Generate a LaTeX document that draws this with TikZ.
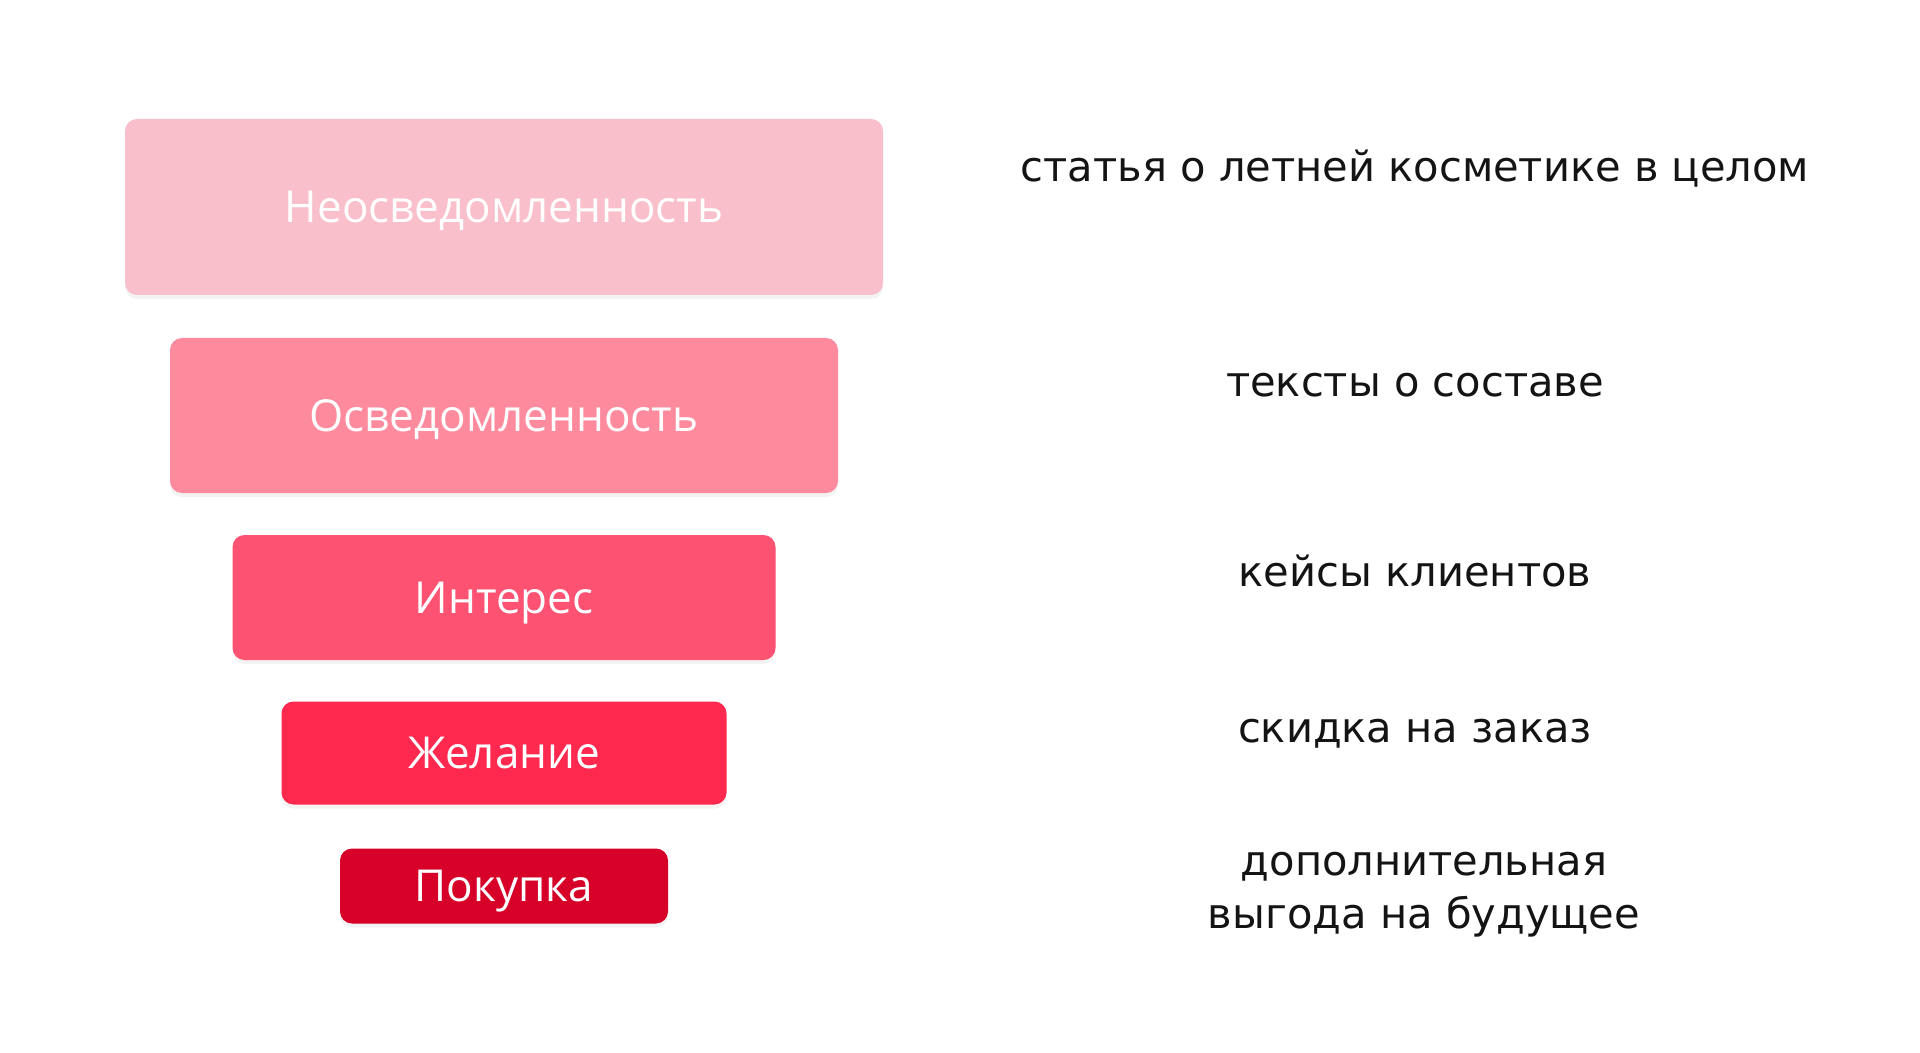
\documentclass[tikz,border=0pt]{standalone}
\usepackage{fontspec}
\setmainfont{DejaVu Sans}
\newfontfamily\boxfont{Open Sans}
\usetikzlibrary{shadows}

\definecolor{stageA}{RGB}{249,191,202}
\definecolor{stageB}{RGB}{254,138,158}
\definecolor{stageC}{RGB}{253,82,114}
\definecolor{stageD}{RGB}{255,41,79}
\definecolor{stageE}{RGB}{214,0,40}
\definecolor{notetext}{RGB}{20,20,20}

\tikzset{
  stagebox/.style={rectangle, rounded corners=6pt, text=white, inner sep=0pt,
    text height=15.7pt, text depth=0pt,
    font=\boxfont\fontsize{22}{26}\selectfont,
    drop shadow={opacity=0.09, shadow xshift=0pt, shadow yshift=-2pt}},
  note/.style={text=notetext, align=center, font=\fontsize{20.8}{26.5}\selectfont}
}

\begin{document}
\begin{tikzpicture}[x=0.5pt, y=-0.5pt]
    \useasboundingbox[fill=white] (0,0) rectangle (1920,1053);

    % Funnel stages
    \node[stagebox, fill=stageA, minimum width=379pt, minimum height=88pt] (unaware) at (504,207) {Неосведомленность};
    \node[stagebox, fill=stageB, minimum width=334pt, minimum height=77.5pt] (aware) at (504,415.5) {Осведомленность};
    \node[stagebox, fill=stageC, minimum width=271.5pt, minimum height=62.5pt] (interest) at (504,597.5) {Интерес};
    \node[stagebox, fill=stageD, minimum width=222.5pt, minimum height=51.5pt] (desire) at (504,753) {Желание};
    \node[stagebox, fill=stageE, minimum width=164pt, minimum height=37.5pt] (purchase) at (504,886) {Покупка};

    % Content for each stage
    \node[note] (unawarenote) at (1415,168.5) {статья о летней косметике в целом};
    \node[note] (awarenote) at (1415,385) {тексты о составе};
    \node[note] (interestnote) at (1415,571) {кейсы клиентов};
    \node[note] (desirenote) at (1415,734) {скидка на заказ};
    \node[note] (purchasenote) at (1424,895) {дополнительная\\выгода на будущее};
\end{tikzpicture}
\end{document}
